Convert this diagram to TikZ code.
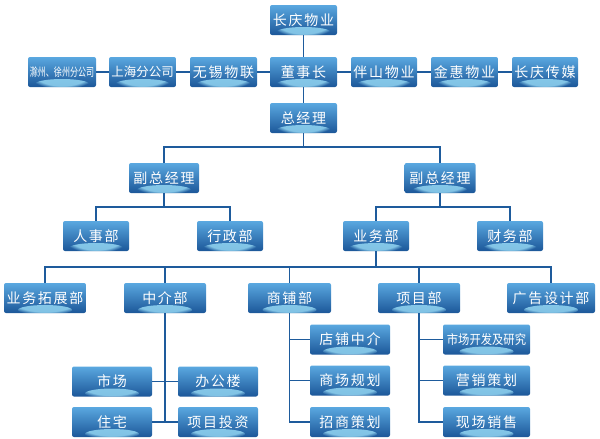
\documentclass[tikz,border=0pt]{standalone}
\usepackage{fontspec}
\usepackage{graphicx}
\newfontfamily\cjk{Noto Sans CJK SC}[LetterSpace=12]
\newfontfamily\cjkn{Noto Sans CJK SC}
\usetikzlibrary{fadings}
\definecolor{boxtop}{HTML}{5AA8E0}
\definecolor{boxmid}{HTML}{2F7FC4}
\definecolor{boxbot}{HTML}{1C5799}
\definecolor{glowc}{HTML}{9ADDF7}
\definecolor{linec}{HTML}{1E5B9C}
\tikzset{
  box/.style={rounded corners=2pt, top color=boxtop, middle color=boxmid, bottom color=boxbot,
    text=white, minimum height=30pt, inner sep=0pt, font=\cjk\fontsize{14}{16}\selectfont,
    path picture={\fill[glowc, opacity=0.8, path fading=circle with fuzzy edge 20 percent]
      ([yshift=3pt]path picture bounding box.south) ellipse [x radius=27pt, y radius=5pt];}},
  conn/.style={draw=linec, line width=1.6pt}
}
\begin{document}
\begin{tikzpicture}[x=1pt,y=-1pt]
\useasboundingbox (0,0) rectangle (600,439);
% top rows
\node[box, minimum width=67pt] (cq) at (303.5,20) {长庆物业};
\node[box, minimum width=67pt] (dsz) at (303.5,72) {董事长};
\node[box, minimum width=67pt] (zjl) at (303.5,118) {总经理};
\node[box, minimum width=68pt, font=\cjkn\fontsize{11.5}{13}\selectfont] (cz) at (62,72) {\scalebox{0.7}[1]{滁州、徐州分公司}};
\node[box, minimum width=67pt, font=\cjkn\fontsize{12.5}{14}\selectfont] (sh) at (142.5,72) {上海分公司};
\node[box, minimum width=67pt] (wx) at (223.5,72) {无锡物联};
\node[box, minimum width=66pt] (bs) at (384,72) {伴山物业};
\node[box, minimum width=67pt] (jh) at (464.5,72) {金惠物业};
\node[box, minimum width=66pt] (cm) at (545,72) {长庆传媒};
% vice managers
\node[box, minimum width=70pt] (fzL) at (164,178) {副总经理};
\node[box, minimum width=71pt] (fzR) at (440,178) {副总经理};
\node[box, minimum width=66pt] (rs) at (96,236) {人事部};
\node[box, minimum width=66pt] (xz) at (230,236) {行政部};
\node[box, minimum width=66pt] (yw) at (376,236) {业务部};
\node[box, minimum width=66pt] (cw) at (510,236) {财务部};
% departments
\node[box, minimum width=82pt] (ywtz) at (45,298) {业务拓展部};
\node[box, minimum width=82pt] (zj) at (165,298) {中介部};
\node[box, minimum width=83pt] (sp) at (289.5,298) {商铺部};
\node[box, minimum width=82pt] (xm) at (419,298) {项目部};
\node[box, minimum width=88pt] (gg) at (551,298) {广告设计部};
% 中介部 children
\node[box, minimum width=80pt] (sc) at (112,381.5) {市场};
\node[box, minimum width=80pt] (bgl) at (218,381.5) {办公楼};
\node[box, minimum width=80pt] (zz) at (112,422) {住宅};
\node[box, minimum width=80pt] (xmtz) at (218,422) {项目投资};
% 商铺部 children
\node[box, minimum width=80pt] (dp) at (350,339.5) {店铺中介};
\node[box, minimum width=80pt] (scgh) at (350,380.5) {商场规划};
\node[box, minimum width=80pt] (zsch) at (350,422) {招商策划};
% 项目部 children
\node[box, minimum width=87pt, font=\cjkn\fontsize{13}{15}\selectfont] (scyj) at (486.5,339.5) {\scalebox{0.87}[1]{市场开发及研究}};
\node[box, minimum width=87pt] (yxch) at (486.5,380.5) {营销策划};
\node[box, minimum width=87pt] (xcxs) at (486.5,422) {现场销售};
% connectors
\draw[conn] (cq) -- (dsz);
\draw[conn] (dsz) -- (zjl);
\draw[conn] (cz) -- (sh);
\draw[conn] (sh) -- (wx);
\draw[conn] (wx) -- (dsz);
\draw[conn] (dsz) -- (bs);
\draw[conn] (bs) -- (jh);
\draw[conn] (jh) -- (cm);
\coordinate (b1) at (303.5,147);
\draw[conn] (zjl) -- (b1);
\draw[conn] (b1) -| (fzL.north);
\draw[conn] (b1) -| (fzR.north);
\coordinate (b2) at (164,207);
\draw[conn] (fzL) -- (b2);
\draw[conn] (b2) -| (rs.north);
\draw[conn] (b2) -| (xz.north);
\coordinate (b3) at (440,207);
\draw[conn] (fzR) -- (b3);
\draw[conn] (b3) -| (yw.north);
\draw[conn] (b3) -| (cw.north);
\coordinate (b4) at (376,267);
\draw[conn] (yw) -- (b4);
\draw[conn] (b4) -| (ywtz.north);
\draw[conn] (b4) -| (zj.north);
\draw[conn] (b4) -| (sp.north);
\draw[conn] (b4) -| (xm.north);
\draw[conn] (b4) -| (gg.north);
% 中介部
\draw[conn] (zj.south) -- (zj.south |- zz.east);
\draw[conn] (sc) -- (bgl);
\draw[conn] (zz) -- (xmtz);
% 商铺部
\draw[conn] (sp.south) -- (sp.south |- zsch.west) -- (zsch.west);
\draw[conn] (sp.south |- dp.west) -- (dp.west);
\draw[conn] (sp.south |- scgh.west) -- (scgh.west);
% 项目部
\draw[conn] (xm.south) -- (xm.south |- xcxs.west) -- (xcxs.west);
\draw[conn] (xm.south |- scyj.west) -- (scyj.west);
\draw[conn] (xm.south |- yxch.west) -- (yxch.west);
\end{tikzpicture}
\end{document}
